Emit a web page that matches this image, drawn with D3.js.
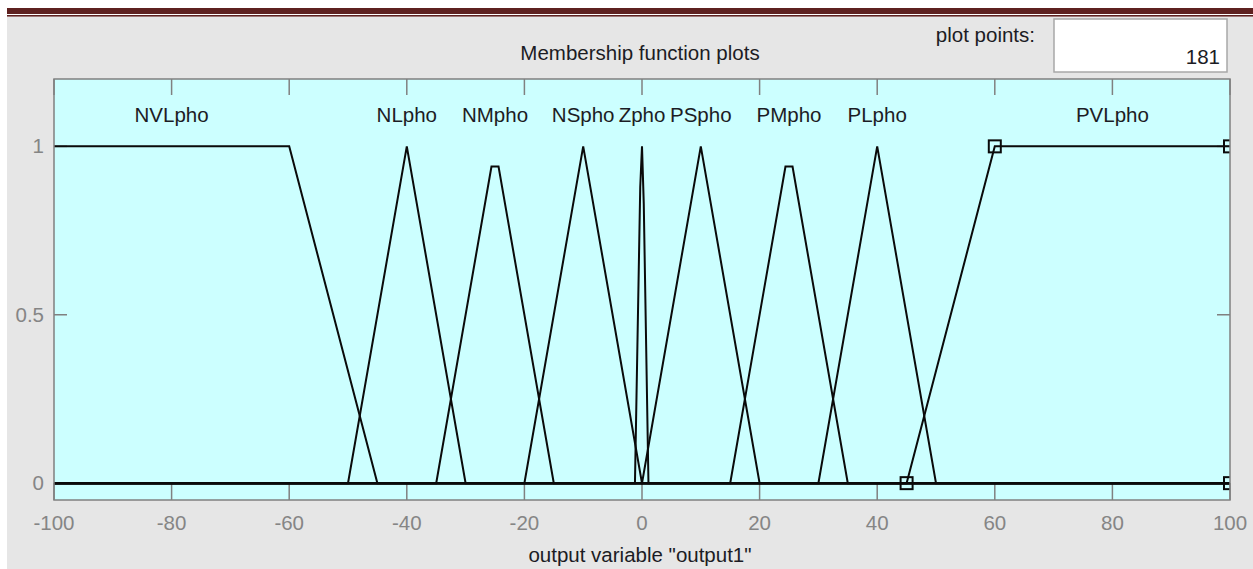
<!DOCTYPE html>
<html>
<head>
<meta charset="utf-8">
<script src="https://cdn.jsdelivr.net/npm/d3@7"></script>
<style>
  html, body { margin: 0; padding: 0; background: #fff; }
  text { font-family: "Liberation Sans", Arial, sans-serif; }
</style>
</head>
<body>
<svg id="chart"></svg>
<script>
// membership functions of output1, break points
const mfNames = ['NVLpho', 'NLpho', 'NMpho', 'NSpho', 'Zpho', 'PSpho', 'PMpho', 'PLpho', 'PVLpho'];
const mfPoints = [
  [[-100, 1], [-60, 1], [-45, 0]],
  [[-50, 0], [-40, 1], [-30, 0]],
  [[-35, 0], [-25.6, 0.94], [-24.4, 0.94], [-15, 0]],
  [[-20, 0], [-10, 1], [0, 0]],
  [[-1.2, 0], [-0.3, 0.88], [0, 1], [0.3, 0.83], [1.1, 0]],
  [[0, 0], [10, 1], [20, 0]],
  [[15, 0], [24.4, 0.94], [25.6, 0.94], [35, 0]],
  [[30, 0], [40, 1], [50, 0]],
  [[45, 0], [60, 1], [100, 1]]
];
const labelAt = [-80, -40, -25, -10, 0, 10, 25, 40, 80];
const selectedMarks = [[45, 0], [60, 1], [100, 1], [100, 0]]; // PVLpho is the selected MF
const xTicks = [-100, -80, -60, -40, -20, 0, 20, 40, 60, 80, 100];
const yTicks = [0, 0.5, 1];
const plotPoints = '181';

const width = 1253, height = 569;
const svg = d3.select('#chart').attr('width', width).attr('height', height);

// page decoration
svg.append('rect').attr('x', 7).attr('y', 17).attr('width', width - 7).attr('height', height - 17)
  .attr('fill', '#e6e6e6');
svg.append('rect').attr('x', 7).attr('y', 8).attr('width', width - 7).attr('height', 6).attr('fill', '#5e2120');
svg.append('rect').attr('x', 7).attr('y', 15).attr('width', width - 7).attr('height', 1.6).attr('fill', '#5e2120');

const pLeft = 54, pRight = 1230, pTop = 79, pBottom = 500;
const x = d3.scaleLinear().domain([-100, 100]).range([pLeft, pRight]);
const y = d3.scaleLinear().domain([-0.05, 1.2]).range([pBottom, pTop]);

svg.append('defs').append('clipPath').attr('id', 'clip')
  .append('rect').attr('x', pLeft).attr('y', pTop).attr('width', pRight - pLeft).attr('height', pBottom - pTop);

svg.append('rect').attr('x', pLeft).attr('y', pTop).attr('width', pRight - pLeft).attr('height', pBottom - pTop)
  .attr('fill', '#ccffff');

// ticks on all four sides
const tickG = svg.append('g').attr('stroke', '#808080').attr('stroke-width', 1.5);
xTicks.forEach(t => {
  tickG.append('line').attr('x1', x(t)).attr('x2', x(t)).attr('y1', pTop).attr('y2', pTop + 16);
  tickG.append('line').attr('x1', x(t)).attr('x2', x(t)).attr('y1', pBottom).attr('y2', pBottom - 17);
});
yTicks.forEach(t => {
  tickG.append('line').attr('x1', pLeft).attr('x2', pLeft + 13).attr('y1', y(t)).attr('y2', y(t));
  tickG.append('line').attr('x1', pRight).attr('x2', pRight - 13).attr('y1', y(t)).attr('y2', y(t));
});

// curves
const line = d3.line().x(d => x(d[0])).y(d => y(d[1]));
const curves = svg.append('g').attr('clip-path', 'url(#clip)');
mfPoints.forEach(pts => {
  const full = pts.slice();
  if (full[0][0] > -100) full.unshift([-100, 0]);
  if (full[full.length - 1][0] < 100) full.push([100, 0]);
  curves.append('path').attr('d', line(full))
    .attr('fill', 'none').attr('stroke', '#0a0a0a').attr('stroke-width', 2)
    .attr('stroke-linejoin', 'miter');
});
curves.selectAll('rect.mark').data(selectedMarks).enter().append('rect')
  .attr('class', 'mark')
  .attr('x', d => x(d[0]) - 6).attr('y', d => y(d[1]) - 6)
  .attr('width', 12).attr('height', 12)
  .attr('fill', 'none').attr('stroke', '#0a0a0a').attr('stroke-width', 2);

// frame
svg.append('rect').attr('x', pLeft).attr('y', pTop).attr('width', pRight - pLeft).attr('height', pBottom - pTop)
  .attr('fill', 'none').attr('stroke', '#808080').attr('stroke-width', 1.5);

// MF labels
svg.append('g').selectAll('text').data(mfNames).enter().append('text')
  .attr('x', (d, i) => x(labelAt[i])).attr('y', 122)
  .attr('text-anchor', 'middle').attr('font-size', '20.5px').attr('fill', '#1c1c24')
  .text(d => d);

// tick labels
svg.append('g').selectAll('text').data(xTicks).enter().append('text')
  .attr('x', d => x(d)).attr('y', 530)
  .attr('text-anchor', 'middle').attr('font-size', '20.5px').attr('fill', '#858585')
  .text(d => d);
svg.append('g').selectAll('text').data(yTicks).enter().append('text')
  .attr('x', 44).attr('y', d => y(d) + 7)
  .attr('text-anchor', 'end').attr('font-size', '20.5px').attr('fill', '#858585')
  .text(d => d);

// titles
svg.append('text').attr('x', 640).attr('y', 60).attr('text-anchor', 'middle')
  .attr('font-size', '20.5px').attr('fill', '#1c1c24').text('Membership function plots');
svg.append('text').attr('x', 640).attr('y', 562).attr('text-anchor', 'middle')
  .attr('font-size', '20.5px').attr('fill', '#1c1c24').text('output variable "output1"');

// plot points box
svg.append('text').attr('x', 1035).attr('y', 42).attr('text-anchor', 'end')
  .attr('font-size', '20.5px').attr('fill', '#1c1c24').text('plot points:');
svg.append('rect').attr('x', 1054).attr('y', 19).attr('width', 173).attr('height', 53)
  .attr('fill', '#fff').attr('stroke', '#a8a8a8').attr('stroke-width', 1.5);
svg.append('text').attr('x', 1220).attr('y', 64).attr('text-anchor', 'end')
  .attr('font-size', '20.5px').attr('fill', '#1c1c24').text(plotPoints);
</script>
</body>
</html>
